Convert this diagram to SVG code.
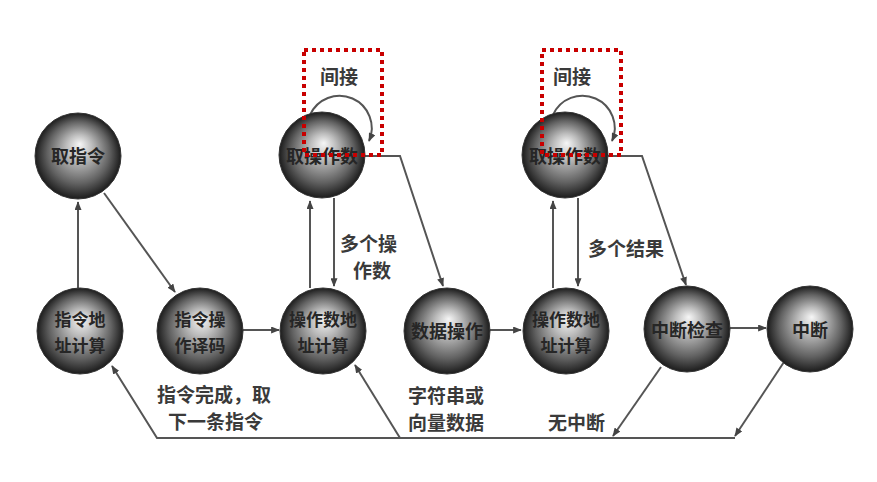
<svg xmlns="http://www.w3.org/2000/svg" width="877" height="482" viewBox="0 0 877 482">
<defs>
<radialGradient id="sph" cx="0.5" cy="0.5" r="0.5" fx="0.52" fy="0.36">
<stop offset="0" stop-color="#f6f6f6"/>
<stop offset="0.3" stop-color="#bdbdbd"/>
<stop offset="0.72" stop-color="#626262"/>
<stop offset="1" stop-color="#1c1c1c"/>
</radialGradient>
<marker id="ah" viewBox="0 0 10 8" refX="9" refY="4" markerWidth="9" markerHeight="7" markerUnits="userSpaceOnUse" orient="auto">
<path d="M0,0 L10,4 L0,8 z" fill="#444"/>
</marker>
</defs>
<style>
.ball{fill:url(#sph);stroke:#333;stroke-width:1}
.nt{font-family:"Noto Sans CJK SC","Noto Sans",sans-serif;font-size:18px;font-weight:bold;fill:#262626;text-anchor:middle;dominant-baseline:central}
.n2{font-size:17px}
.lb{font-family:"Noto Sans CJK SC","Noto Sans",sans-serif;font-size:19px;font-weight:bold;fill:#3a3a3a;dominant-baseline:central}
.ln{fill:none;stroke:#555;stroke-width:2}
.ar{marker-end:url(#ah)}
.red{fill:none;stroke:#c80000;stroke-width:4;stroke-dasharray:4 4}
</style>
<rect width="877" height="482" fill="#ffffff"/>

<g id="connectors">
<path class="ln ar" d="M78,288 V202"/>
<path class="ln ar" d="M104,193 L175,292"/>
<path class="ln ar" d="M243,330 H279"/>
<path class="ln ar" d="M310,288 V201"/>
<path class="ln ar" d="M334,198 V286"/>
<path class="ln ar" d="M310,115 A31,31 0 1 1 369,141"/>
<path class="ln ar" d="M365,156 H400 L443,286"/>
<path class="ln ar" d="M490,330 H521"/>
<path class="ln ar" d="M553,288 V201"/>
<path class="ln ar" d="M578,198 V286"/>
<path class="ln ar" d="M553,115 A31,31 0 1 1 612,141"/>
<path class="ln ar" d="M608,156 H642 L686,285"/>
<path class="ln ar" d="M730,328 H766"/>
<path class="ln ar" d="M661,367 L613,436"/>
<path class="ln ar" d="M784,362 L735,436"/>
<path class="ln ar" d="M735,438 H157 L112,366" stroke-width="2.5"/>
<path class="ln ar" d="M400,438 L355,365"/>
</g>

<g id="n-fetch-instr"><circle class="ball" cx="78" cy="156" r="43"/><text class="nt" x="78" y="155">取指令</text></g>
<g id="n-fetch-operand-1"><circle class="ball" cx="322" cy="155" r="43"/><text class="nt" x="322" y="155">取操作数</text></g>
<g id="n-fetch-operand-2"><circle class="ball" cx="565" cy="155" r="43"/><text class="nt" x="565" y="155">取操作数</text></g>
<g id="n-instr-addr"><circle class="ball" cx="80" cy="331" r="43"/><text class="nt n2" x="80" y="318">指令地</text><text class="nt n2" x="80" y="344">址计算</text></g>
<g id="n-decode"><circle class="ball" cx="200" cy="331" r="43"/><text class="nt n2" x="200" y="318">指令操</text><text class="nt n2" x="200" y="344">作译码</text></g>
<g id="n-operand-addr-1"><circle class="ball" cx="323" cy="331" r="43"/><text class="nt n2" x="323" y="318">操作数地</text><text class="nt n2" x="323" y="344">址计算</text></g>
<g id="n-data-op"><circle class="ball" cx="447" cy="331" r="43"/><text class="nt" x="447" y="330">数据操作</text></g>
<g id="n-operand-addr-2"><circle class="ball" cx="566" cy="331" r="43"/><text class="nt n2" x="566" y="318">操作数地</text><text class="nt n2" x="566" y="344">址计算</text></g>
<g id="n-int-check"><circle class="ball" cx="687" cy="329" r="43"/><text class="nt" x="687" y="329">中断检查</text></g>
<g id="n-interrupt"><circle class="ball" cx="810" cy="329" r="43"/><text class="nt" x="810" y="329">中断</text></g>

<g id="labels">
<text class="lb" x="320" y="75" fill="#555">间接</text>
<text class="lb" x="553" y="75" fill="#555">间接</text>
<text class="lb" x="340" y="242">多个操</text>
<text class="lb" x="353" y="269">作数</text>
<text class="lb" x="588" y="247">多个结果</text>
<text class="lb" x="157" y="393">指令完成，取</text>
<text class="lb" x="168" y="420">下一条指令</text>
<text class="lb" x="408" y="394">字符串或</text>
<text class="lb" x="408" y="421">向量数据</text>
<text class="lb" x="548" y="421">无中断</text>
</g>

<rect class="red" x="304" y="50" width="78" height="105"/>
<rect class="red" x="542" y="50" width="79" height="105"/>
</svg>
